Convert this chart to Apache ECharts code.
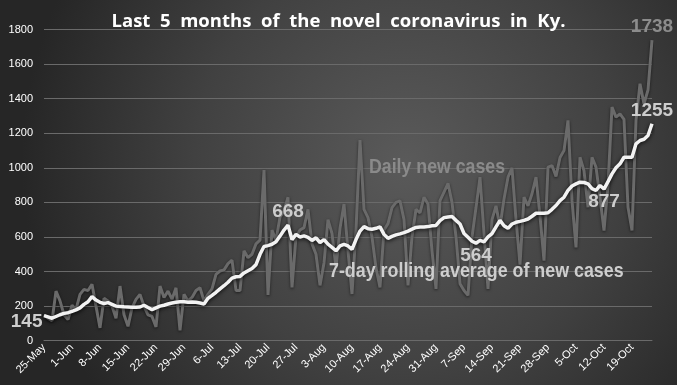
<!DOCTYPE html>
<html><head><meta charset="utf-8">
<script src="https://cdn.jsdelivr.net/npm/echarts@6/dist/echarts.min.js"></script>
<style>html,body{margin:0;padding:0;}#c{width:677px;height:385px;}</style>
</head><body><div id="c"></div>
<script>
const categories = [
'25-May','26-May','27-May','28-May','29-May','30-May','31-May',
'1-Jun','2-Jun','3-Jun','4-Jun','5-Jun','6-Jun','7-Jun','8-Jun','9-Jun','10-Jun','11-Jun','12-Jun','13-Jun','14-Jun','15-Jun','16-Jun','17-Jun','18-Jun','19-Jun','20-Jun','21-Jun','22-Jun','23-Jun','24-Jun','25-Jun','26-Jun','27-Jun','28-Jun','29-Jun','30-Jun',
'1-Jul','2-Jul','3-Jul','4-Jul','5-Jul','6-Jul','7-Jul','8-Jul','9-Jul','10-Jul','11-Jul','12-Jul','13-Jul','14-Jul','15-Jul','16-Jul','17-Jul','18-Jul','19-Jul','20-Jul','21-Jul','22-Jul','23-Jul','24-Jul','25-Jul','26-Jul','27-Jul','28-Jul','29-Jul','30-Jul','31-Jul',
'1-Aug','2-Aug','3-Aug','4-Aug','5-Aug','6-Aug','7-Aug','8-Aug','9-Aug','10-Aug','11-Aug','12-Aug','13-Aug','14-Aug','15-Aug','16-Aug','17-Aug','18-Aug','19-Aug','20-Aug','21-Aug','22-Aug','23-Aug','24-Aug','25-Aug','26-Aug','27-Aug','28-Aug','29-Aug','30-Aug','31-Aug',
'1-Sep','2-Sep','3-Sep','4-Sep','5-Sep','6-Sep','7-Sep','8-Sep','9-Sep','10-Sep','11-Sep','12-Sep','13-Sep','14-Sep','15-Sep','16-Sep','17-Sep','18-Sep','19-Sep','20-Sep','21-Sep','22-Sep','23-Sep','24-Sep','25-Sep','26-Sep','27-Sep','28-Sep','29-Sep','30-Sep',
'1-Oct','2-Oct','3-Oct','4-Oct','5-Oct','6-Oct','7-Oct','8-Oct','9-Oct','10-Oct','11-Oct','12-Oct','13-Oct','14-Oct','15-Oct','16-Oct','17-Oct','18-Oct','19-Oct','20-Oct','21-Oct','22-Oct','23-Oct','24-Oct'
];
const dailyCases = [
150,130,115,287,230,150,122,205,180,268,297,290,326,200,74,245,230,200,130,316,
150,83,190,239,268,200,150,140,80,316,250,287,240,306,60,268,230,250,290,306,
230,268,300,384,403,410,446,466,291,290,520,480,500,560,582,987,265,640,580,716,
750,830,308,600,640,654,760,560,500,320,450,700,620,420,650,790,520,270,640,1160,
760,712,600,421,308,640,677,770,800,809,700,320,600,760,740,830,790,520,300,810,
860,910,800,600,330,290,262,600,770,946,620,300,700,780,660,820,946,1000,700,440,
830,780,850,946,720,463,1004,1013,950,1060,1100,1274,810,540,1061,984,772,1061,1004,830,
637,900,1351,1293,1312,1280,772,637,1274,1486,1370,1450,1738
];
const rollingAvg = [
145,138,130,140,150,158,162,170,178,190,210,225,255,235,222,215,220,210,200,198,
196,195,194,193,195,205,192,180,190,200,205,212,218,222,225,225,222,224,222,218,
212,245,262,280,300,318,338,362,370,372,392,405,418,440,500,545,550,558,572,605,
640,668,585,615,600,606,598,580,595,568,585,558,540,520,548,557,548,528,585,634,
660,648,645,650,658,615,592,603,612,618,625,634,645,655,658,658,660,665,667,695,
712,716,718,696,675,620,598,575,564,580,572,600,619,658,696,665,650,675,685,690,
696,704,720,737,737,737,740,760,782,810,830,869,895,907,917,915,907,880,869,898,
877,920,965,1000,1023,1061,1061,1061,1139,1158,1165,1187,1255
];
const yTicks = {min: 0, max: 1800, step: 200};
const avgCallouts = [0, 61, 108, 140, 152];
const avgCalloutPos = ['left', 'top', 'bottom', 'bottom', 'top'];
const dailyCallouts = [152];

const chart = echarts.init(document.getElementById('c'), null, {renderer: 'canvas'});
const labelFont = '"Liberation Sans",Arial,sans-serif';
const avgMarks = avgCallouts.map((i, k) => ({
  coord: [categories[i], rollingAvg[i]], value: rollingAvg[i],
  label: {position: avgCalloutPos[k], distance: avgCalloutPos[k]==='left' ? 1 : 3,
    offset: avgCalloutPos[k]==='left' ? [0, 6] : [0, 0]}
}));
const dailyMarks = dailyCallouts.map(i => ({coord: [categories[i], dailyCases[i]], value: dailyCases[i]}));

chart.setOption({
  backgroundColor: {type: 'radial', x: 0.6, y: 0.42, r: 1.0,
    colorStops: [{offset: 0, color: '#5a5a5a'}, {offset: 0.55, color: '#414141'}, {offset: 1, color: '#262626'}]},
  title: {text: 'Last  5  months  of  the  novel  coronavirus  in  Ky.', left: 'center', top: 7,
    textStyle: {color: '#ffffff', fontSize: 18.5, fontWeight: 'bold', fontFamily: '"Open Sans",sans-serif'}},
  grid: {left: 44, right: 25, top: 29.5, bottom: 44.3},
  xAxis: {type: 'category', data: categories, boundaryGap: false,
    axisLine: {lineStyle: {color: '#6a6a6a', width: 1}}, axisTick: {show: false},
    axisLabel: {interval: 6, rotate: 45, color: '#ffffff', fontSize: 11, margin: 5,
      fontFamily: '"Liberation Sans",Arial,sans-serif'}},
  yAxis: {type: 'value', min: yTicks.min, max: yTicks.max, interval: yTicks.step,
    axisLine: {show: false}, axisTick: {show: false},
    axisLabel: {color: '#ffffff', fontSize: 11, margin: 11, formatter: v => String(v),
      fontFamily: '"Liberation Sans",Arial,sans-serif'},
    splitLine: {lineStyle: {color: '#6a6a6a', width: 1}}},
  graphic: [
    {type: 'text', z: 100, x: 369, y: 157, scaleX: 0.865, style: {text: 'Daily new cases', fill: '#8a8a8a',
      font: 'bold 20.5px ' + labelFont, textVerticalAlign: 'top'}},
    {type: 'text', z: 100, x: 329, y: 261, scaleX: 0.85, style: {text: '7-day rolling average of new cases', fill: '#cecece',
      font: 'bold 21px ' + labelFont, textVerticalAlign: 'top'}}
  ],
  series: [
    {name: 'Daily new cases', type: 'line', data: dailyCases, symbol: 'none', z: 2,
      lineStyle: {color: '#6a6a6a', width: 3, shadowColor: 'rgba(0,0,0,0.55)', shadowBlur: 3, shadowOffsetY: 1},
      markPoint: {symbol: 'circle', symbolSize: 1, itemStyle: {color: 'rgba(0,0,0,0)'},
        label: {show: true, position: 'top', distance: 3, formatter: '{c}', color: '#8c8c8c',
          fontSize: 19, fontWeight: 'bold', fontFamily: labelFont},
        data: dailyMarks}},
    {name: '7-day rolling average', type: 'line', data: rollingAvg, symbol: 'none', z: 3,
      lineStyle: {color: '#f2f2f2', width: 3.5, shadowColor: 'rgba(0,0,0,0.85)', shadowBlur: 4, shadowOffsetY: 1},
      markPoint: {symbol: 'circle', symbolSize: 1, itemStyle: {color: 'rgba(0,0,0,0)'},
        label: {show: true, formatter: '{c}', color: '#cdcdcd',
          fontSize: 19, fontWeight: 'bold', fontFamily: labelFont},
        data: avgMarks}}
  ]
});
</script></body></html>
